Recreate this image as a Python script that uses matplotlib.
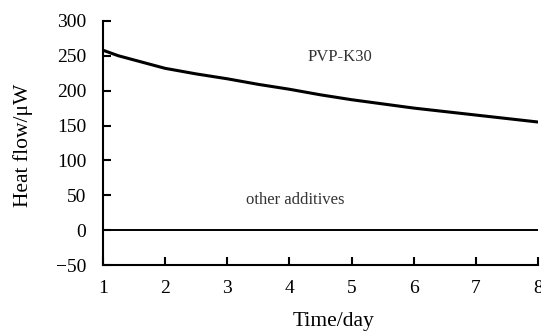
import matplotlib.pyplot as plt

plt.rcParams['font.family'] = ['Liberation Serif', 'DejaVu Serif']

# PVP-K30 heat flow
days = [1, 1.25, 1.5, 2, 2.5, 3, 3.5, 4, 4.5, 5, 5.5, 6, 6.5, 7, 7.5, 8]
pvp = [258, 250, 244, 232, 224, 217, 209, 202, 194, 187, 181, 175, 170, 165, 160, 155]
# other additives stay flat at zero
other_days = [1, 8]
other = [0, 0]

fig = plt.figure(figsize=(5.41, 3.31), dpi=100)
ax = fig.add_axes([0.190, 0.199, 0.805, 0.738])

ax.plot(days, pvp, color='black', lw=2.2)
ax.plot(other_days, other, color='black', lw=1.4)

ax.set_xlim(1, 8)
ax.set_ylim(-50, 300)
ax.set_xticks(range(1, 9))
ax.set_yticks(range(-50, 301, 50))
ax.set_yticklabels(['\u221250'] + [str(v) for v in range(0, 301, 50)])

for s in ['top', 'right']:
    ax.spines[s].set_visible(False)
for s in ['left', 'bottom']:
    ax.spines[s].set_linewidth(1.5)
ax.tick_params(direction='in', length=6, width=1.5, labelsize=14, colors='black')
ax.tick_params(axis='x', pad=11)
ax.tick_params(axis='y', pad=12)

ax.set_xlabel('Time/day', fontsize=15.5)
ax.set_ylabel('Heat flow/\u03bcW', fontsize=15.5)
ax.xaxis.set_label_coords(0.53, -0.193)
ax.yaxis.set_label_coords(-0.161, 0.49)

ax.text(4.81, 248, 'PVP-K30', fontsize=12, ha='center', va='center', color='#333333')
ax.text(4.09, 43, 'other additives', fontsize=12, ha='center', va='center', color='#333333')

fig.savefig('out.png', dpi=100)
